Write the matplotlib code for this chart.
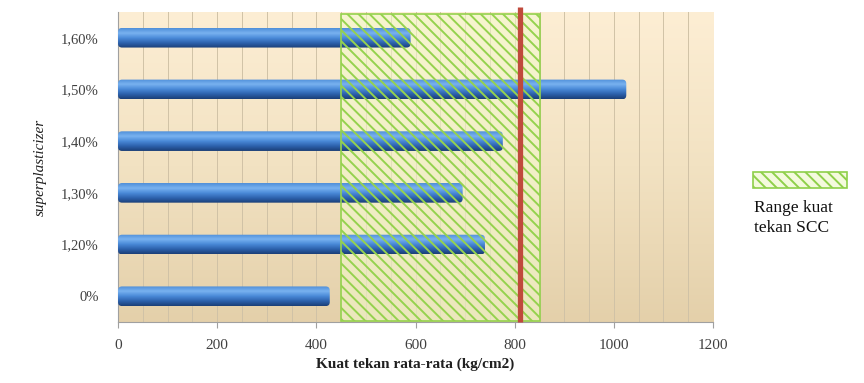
import numpy as np
import matplotlib
matplotlib.use("Agg")
import matplotlib.pyplot as plt
from matplotlib.patches import Rectangle, FancyBboxPatch
from matplotlib.colors import LinearSegmentedColormap

# Data
categories = ["0%", "1,20%", "1,30%", "1,40%", "1,50%", "1,60%"]
strength = [427, 740, 695, 776, 1025, 590]
scc_range = [450, 850]
reference_line = 810
x_ticks = [0, 200, 400, 600, 800, 1000, 1200]

serif = ["Liberation Serif", "DejaVu Serif"]
plt.rcParams["font.family"] = serif
plt.rcParams["hatch.linewidth"] = 1.4

fig = plt.figure(figsize=(8.64, 3.83), dpi=100)
ax = fig.add_axes([0.1366, 0.159, 0.6887, 0.81])

xmin, xmax = 0, 1200
ymin, ymax = -0.5, len(categories) - 0.5

# plot-area background: vertical gradient light peach -> tan
bg_cmap = LinearSegmentedColormap.from_list("bg", ["#e4d0aa", "#f2e2c2", "#fdeed4"])
grad = np.linspace(0, 1, 256).reshape(-1, 1)
ax.imshow(grad, cmap=bg_cmap, aspect="auto", origin="lower",
          extent=(0, 1, 0, 1), transform=ax.transAxes, zorder=0)

# vertical gridlines every 50
for gx in np.arange(50, 1200, 50):
    ax.axvline(gx, color="#d0c2a6", lw=0.7, zorder=1)

# SCC strength range: pale fill below the bars
band_y = ymin + 0.03
band_h = ymax - ymin - 0.07
ax.add_patch(Rectangle((scc_range[0], band_y), scc_range[1] - scc_range[0], band_h,
                       facecolor=(0.95, 0.98, 0.80, 0.55), edgecolor="none", zorder=2))

# cylinder-style bars
bar_cmap = LinearSegmentedColormap.from_list(
    "bar", ["#1b3f78", "#2d62ad", "#4a8ad8", "#79b2f0", "#4f8fd9"])
bar_h = 0.38
px_x = (xmax - xmin) / 595.0
px_y = (ymax - ymin) / 310.0
for i, v in enumerate(strength):
    y0 = i - bar_h / 2
    clip = FancyBboxPatch((0, y0), v, bar_h,
                          boxstyle=f"round,pad=0,rounding_size={4 * px_x}",
                          mutation_aspect=px_y / px_x,
                          facecolor="none", edgecolor="none",
                          transform=ax.transData)
    ax.add_patch(clip)
    img = ax.imshow(np.linspace(0, 1, 64).reshape(-1, 1), cmap=bar_cmap,
                    aspect="auto", origin="lower",
                    extent=(0, v, y0, y0 + bar_h), zorder=3)
    img.set_clip_path(clip)

# SCC strength range: hatch and outline over the bars
ax.add_patch(Rectangle((scc_range[0], band_y), scc_range[1] - scc_range[0], band_h,
                       facecolor="none", edgecolor="#95d24e", hatch="\\\\\\",
                       lw=1.2, zorder=4))

# reference strength line
ax.plot([reference_line, reference_line], [ymin, ymax + 0.1], color="#c04a3c",
        lw=3.8, solid_capstyle="butt", zorder=5, clip_on=False)

ax.set_xlim(xmin, xmax)
ax.set_ylim(ymin, ymax)
ax.set_xticks(x_ticks)
ax.set_xticklabels([str(t) for t in x_ticks], fontsize=11, color="#404040")
ax.set_yticks(range(len(categories)))
ax.set_yticklabels(categories, fontsize=10.5, color="#404040")
ax.tick_params(axis="y", length=0, pad=14)
ax.tick_params(axis="x", length=4, color="#a0a0a0", pad=8)
for s in ["top", "right"]:
    ax.spines[s].set_visible(False)
for s in ["left", "bottom"]:
    ax.spines[s].set_color("#a0a0a0")
    ax.spines[s].set_linewidth(0.8)

ax.set_xlabel("Kuat tekan rata-rata (kg/cm2)", fontsize=11, fontweight="bold",
              color="#202020", labelpad=4)
ax.set_ylabel("superplasticizer", fontsize=11, style="italic", color="#202020",
              labelpad=10)

# legend key
fig.patches.append(Rectangle((0.871, 0.509), 0.109, 0.042, transform=fig.transFigure,
                             facecolor=(0.93, 0.97, 0.78, 0.6), edgecolor="#8fd04a",
                             hatch="\\\\\\", lw=1.2, figure=fig))
fig.text(0.873, 0.478, "Range kuat\ntekan SCC", fontsize=12.5, color="#111111",
         va="top", ha="left", linespacing=1.35)

fig.savefig("out.png", dpi=100)
